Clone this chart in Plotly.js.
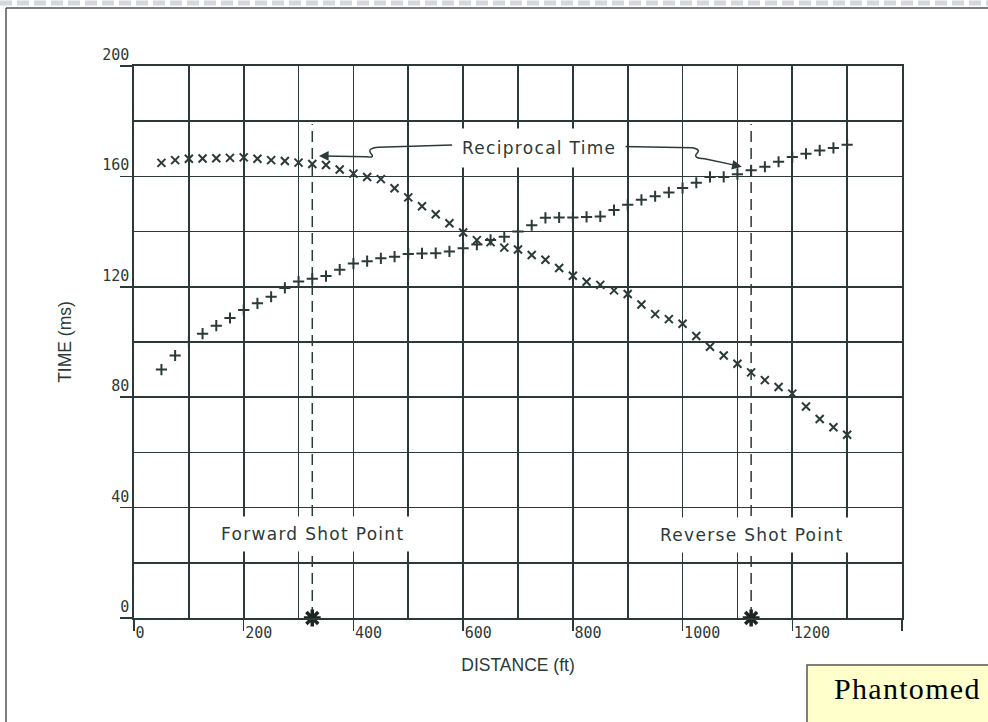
<!DOCTYPE html>
<html>
<head>
<meta charset="utf-8">
<script src="https://cdn.plot.ly/plotly-3.0.1.min.js"></script>
<style>
  html, body { margin: 0; padding: 0; background: #ffffff; }
  #chart { width: 988px; height: 722px; }
  text.annotation-text { letter-spacing: 1.3px; }
</style>
</head>
<body>
<div id="chart"></div>
<script>
// ---- data ----
const distanceFt = [50,75,100,125,150,175,200,225,250,275,300,325,350,375,400,425,450,475,500,525,550,575,600,625,650,675,700,725,750,775,800,825,850,875,900,925,950,975,1000,1025,1050,1075,1100,1125,1150,1175,1200,1225,1250,1275,1300];

// "x" markers: arrivals from the reverse shot point
const reverseShotTimes = [164.9,165.9,166.4,166.5,166.6,166.7,166.9,166.4,165.9,165.6,165.0,164.5,164.1,162.5,161.0,159.8,159.0,155.7,152.4,149.2,146.3,143.0,139.7,136.9,136.2,134.2,133.5,131.5,129.8,126.8,124.0,121.8,120.7,118.7,117.4,113.6,110.1,108.3,106.6,102.2,98.3,95.1,92.1,89.0,86.2,83.7,81.3,76.6,72.1,69.1,66.4];

// "+" markers: arrivals from the forward shot point
const forwardShotTimes = [90.0,95.1,100.0,103.0,105.9,108.7,111.6,114.0,116.4,119.6,121.9,122.9,123.9,126.2,128.4,129.3,130.3,130.9,131.9,132.1,132.2,132.8,134.0,135.3,137.0,138.1,140.0,142.3,145.0,145.1,145.1,145.3,145.5,147.8,149.7,151.5,152.8,154.2,155.8,157.7,159.8,159.8,160.8,162.2,163.5,165.3,167.0,168.2,169.4,170.3,171.5];

const shotPointFt = [325, 1125];
const shotPointTimes = [0, 0];
const shotLineTopMs = 179;

const xTickVals = [0,200,400,600,800,1000,1200,1400];
const xTickText = ['0','200','400','600','800','1000','1200',''];
const yTickVals = [0,40,80,120,160,200];
const yTickText = ['0','40','80','120','160','200'];

// ---- styling ----
const ink = '#2b3a38';
const W = 988, H = 722;
const M = {l: 134, r: 86, t: 66, b: 104};
const plotW = W - M.l - M.r, plotH = H - M.t - M.b;
const px = x => (x - M.l) / plotW;          // figure pixel -> paper x
const py = y => (H - M.b - y) / plotH;      // figure pixel -> paper y

const traces = [
  {
    x: distanceFt, y: reverseShotTimes, type: 'scatter', mode: 'markers',
    marker: {symbol: 'x-thin-open', size: 8, color: ink, line: {width: 2, color: ink}},
    hoverinfo: 'skip'
  },
  {
    x: distanceFt, y: forwardShotTimes, type: 'scatter', mode: 'markers',
    marker: {symbol: 'cross-thin-open', size: 8, color: ink, line: {width: 2, color: ink}},
    hoverinfo: 'skip'
  }
];
shotPointFt.forEach(sp => {
  traces.push({
    x: [sp, sp], y: [0, shotLineTopMs], type: 'scatter', mode: 'lines',
    line: {color: ink, width: 1.5, dash: '11px,6px'}, hoverinfo: 'skip'
  });
});
traces.push({
  x: shotPointFt, y: shotPointTimes, type: 'scatter', mode: 'markers',
  cliponaxis: false,
  marker: {symbol: 'asterisk-open', size: 14, color: '#1e2624', line: {width: 3.5, color: '#1e2624'}},
  hoverinfo: 'skip'
});

const labelFont = {family: 'DejaVu Sans', size: 17, color: ink};

const layout = {
  width: W, height: H,
  margin: M,
  paper_bgcolor: '#ffffff', plot_bgcolor: '#ffffff',
  showlegend: false, hovermode: false,
  xaxis: {
    range: [0, 1400], tickmode: 'array', tickvals: xTickVals, ticktext: xTickText,
    ticks: 'outside', ticklen: 11, tickwidth: 1.5, tickcolor: ink,
    ticklabelposition: 'outside right', ticklabelstandoff: 0,
    tickfont: {family: 'DejaVu Sans Mono', size: 15, color: ink},
    showgrid: true, gridcolor: ink, gridwidth: 1.6,
    minor: {tickmode: 'linear', tick0: 0, dtick: 100, showgrid: true, gridcolor: ink, gridwidth: 1.6, ticklen: 0},
    showline: true, linecolor: ink, linewidth: 1.6, mirror: true, zeroline: false,
    title: {text: 'DISTANCE (ft)', font: {family: 'Liberation Sans', size: 17.5, color: ink}, standoff: 18}
  },
  yaxis: {
    range: [0, 200], tickmode: 'array', tickvals: yTickVals, ticktext: yTickText,
    ticks: 'outside', ticklen: 12, tickwidth: 1.5, tickcolor: ink,
    ticklabelposition: 'outside top', ticklabelstandoff: 0,
    tickfont: {family: 'DejaVu Sans Mono', size: 15, color: ink},
    showgrid: true, gridcolor: ink, gridwidth: 1.6,
    minor: {tickmode: 'linear', tick0: 0, dtick: 20, showgrid: true, gridcolor: ink, gridwidth: 1.6, ticklen: 0},
    showline: true, linecolor: ink, linewidth: 1.6, mirror: true, zeroline: false,
    title: {text: 'TIME (ms)', font: {family: 'Liberation Sans', size: 17.5, color: ink}, standoff: 26}
  },
  shapes: [
    // wavy arrow shafts to the reciprocal-time points
    {type: 'path', xref: 'x', yref: 'y', layer: 'above',
     path: 'M580,171.4 L446,170.6 Q424,170.2 432,168.3 Q440,166.6 424,167.1 L346,167.4',
     line: {color: ink, width: 1.5}},
    {type: 'path', xref: 'x', yref: 'y', layer: 'above',
     path: 'M889,170.8 L1018,170.4 Q1034,169.8 1026,168.3 Q1018,166.7 1040,166.4 L1097,164.0',
     line: {color: ink, width: 1.5}},
    // page frame
    {type: 'line', xref: 'paper', yref: 'paper', x0: px(0), x1: px(W), y0: py(3), y1: py(3),
     line: {color: '#d4d8dc', width: 5, dash: '12px,5px'}},
    {type: 'line', xref: 'paper', yref: 'paper', x0: px(6), x1: px(W), y0: py(8), y1: py(8),
     line: {color: '#555555', width: 1.5}},
    {type: 'line', xref: 'paper', yref: 'paper', x0: px(6), x1: px(6), y0: py(8), y1: py(H + 5),
     line: {color: '#555555', width: 1.5}},
    // yellow slide note box
    {type: 'rect', xref: 'paper', yref: 'paper', x0: px(807), x1: px(W + 10), y0: py(665), y1: py(H + 10),
     fillcolor: '#ffffcc', line: {color: '#555555', width: 1.5}}
  ],
  annotations: [
    {x: 738, y: 170.3, xref: 'x', yref: 'y', text: 'Reciprocal Time', showarrow: false,
     font: labelFont, bgcolor: '#ffffff', borderpad: 9},
    {x: 325, y: 30.5, xref: 'x', yref: 'y', text: 'Forward Shot Point', showarrow: false,
     font: labelFont, bgcolor: '#ffffff', borderpad: 7},
    {x: 1125, y: 30, xref: 'x', yref: 'y', text: 'Reverse Shot Point', showarrow: false,
     font: labelFont, bgcolor: '#ffffff', borderpad: 7},
    // arrow heads
    {x: 337, y: 167.4, ax: 350, ay: 167.4, xref: 'x', yref: 'y', axref: 'x', ayref: 'y',
     text: '', showarrow: true, arrowhead: 2, arrowsize: 1.3, arrowwidth: 1.5, arrowcolor: ink},
    {x: 1108, y: 163.5, ax: 1094, ay: 164.1, xref: 'x', yref: 'y', axref: 'x', ayref: 'y',
     text: '', showarrow: true, arrowhead: 2, arrowsize: 1.3, arrowwidth: 1.5, arrowcolor: ink},
    {x: px(832), y: py(688), xref: 'paper', yref: 'paper', xanchor: 'left', yanchor: 'middle',
     text: 'Phantomed', showarrow: false,
     font: {family: 'Liberation Serif', size: 30, color: '#000000'}}
  ]
};

Plotly.newPlot('chart', traces, layout, {staticPlot: true, displayModeBar: false});
</script>
</body>
</html>
